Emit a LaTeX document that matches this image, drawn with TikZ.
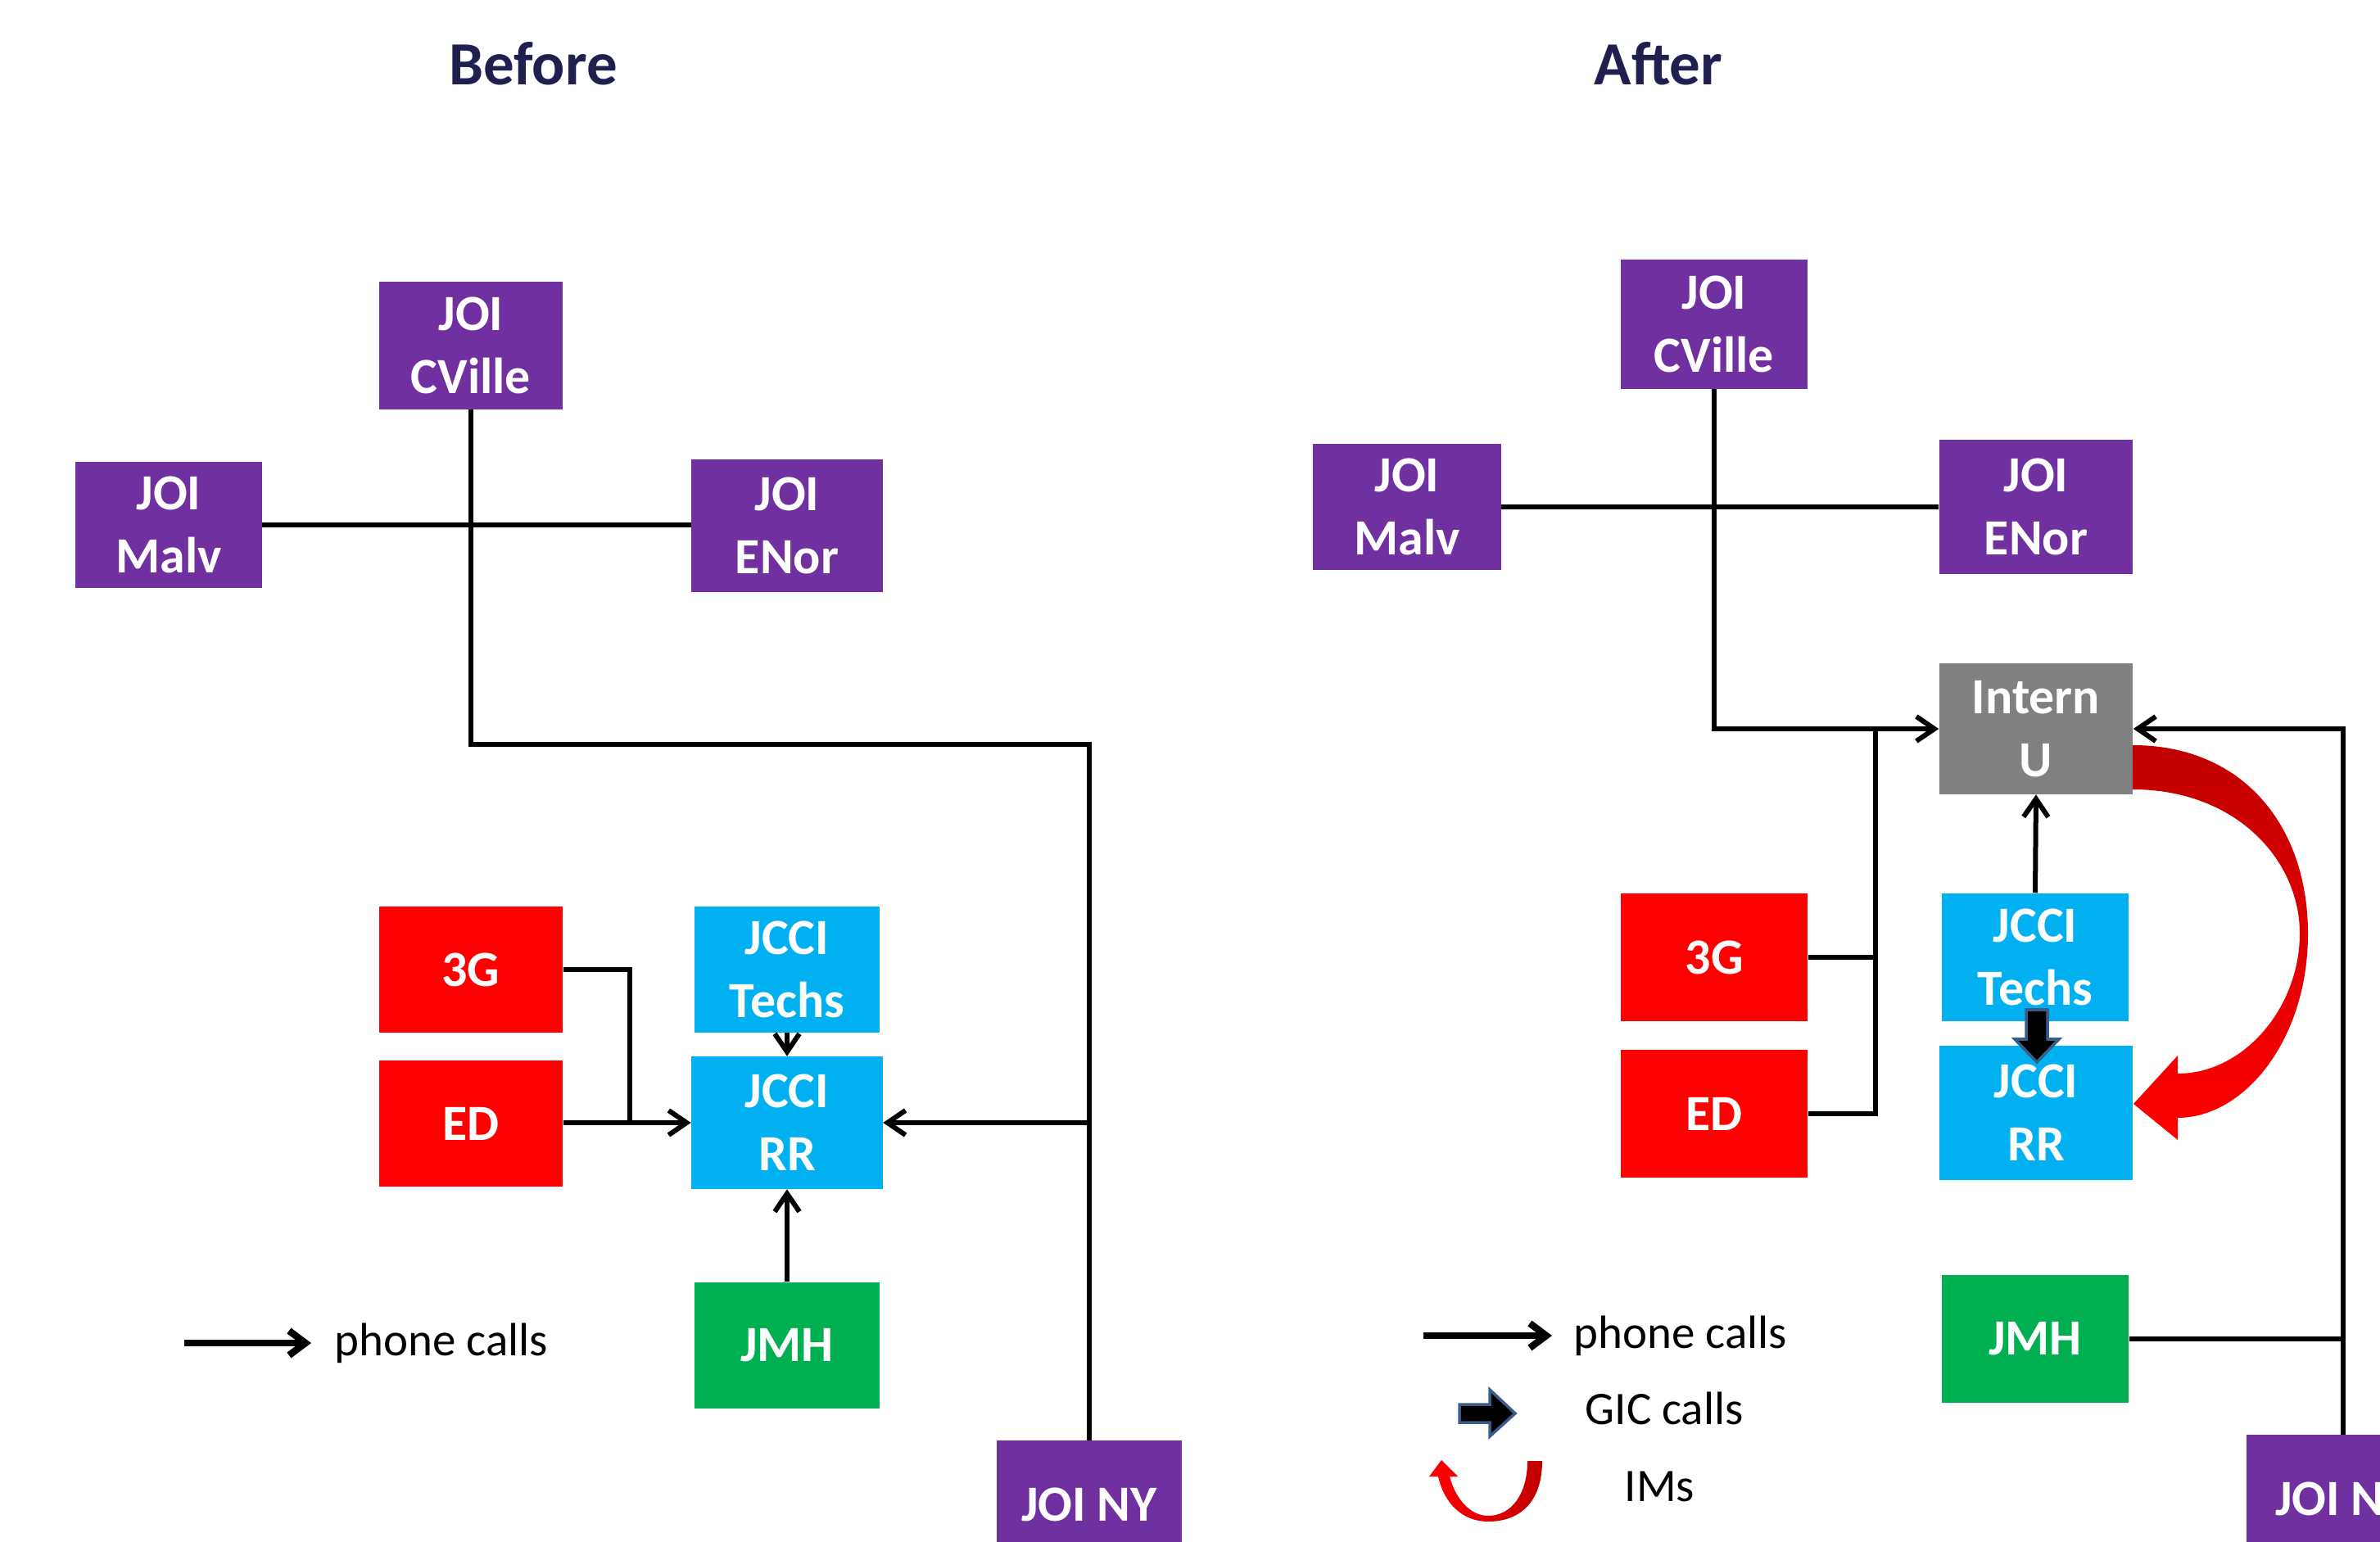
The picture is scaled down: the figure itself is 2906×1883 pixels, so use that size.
\documentclass[tikz,border=0pt]{standalone}
\usepackage{fontspec}
\setmainfont{Carlito}
\usetikzlibrary{arrows.meta}
\definecolor{jpurple}{HTML}{7030A0}
\definecolor{jred}{HTML}{FF0000}
\definecolor{jcyan}{HTML}{00B0F0}
\definecolor{jgreen}{HTML}{00B050}
\definecolor{jgray}{HTML}{808080}
\definecolor{jtitle}{HTML}{1F2050}
\definecolor{imdark}{HTML}{C00000}
\definecolor{gicblue}{HTML}{385D8A}
\begin{document}
\begin{tikzpicture}[x=0.01cm,y=-0.01cm,
  box/.style={inner sep=0pt, text=white, align=center,
    font=\bfseries\fontsize{17.6}{22}\selectfont},
  ln/.style={line width=0.06cm},
  ar/.style={line width=0.06cm, -{Straight Barb[length=0.22cm,width=0.3cm]}},
  legar/.style={line width=0.085cm, -{Straight Barb[length=0.2cm,width=0.3cm]}},
  title/.style={text=jtitle, font=\bfseries\fontsize{21.3}{25}\selectfont},
  legtext/.style={anchor=west, inner sep=0pt, font=\fontsize{16.2}{19}\selectfont},
  gic/.style={fill=black, draw=gicblue, line width=0.035cm, line join=miter}
]
\useasboundingbox (0,0) rectangle (2906,1883);
\clip (0,0) rectangle (2906,1883);

% titles
\node[title] (tbefore) at (651,78) {Before};
\node[title] (tafter) at (2025,78) {After};

% ---------------- Before ----------------
\node[box, fill=jpurple, minimum width=2.24cm, minimum height=1.55cm] (lcv) at (575,422) {JOI\\CVille};
\node[box, fill=jpurple, minimum width=2.27cm, minimum height=1.53cm] (lmalv) at (206,641) {JOI\\Malv};
\node[box, fill=jpurple, minimum width=2.33cm, minimum height=1.61cm] (lenor) at (961,642) {JOI\\ENor};
\node[box, fill=jred, minimum width=2.24cm, minimum height=1.53cm] (l3g) at (575,1184) {3G};
\node[box, fill=jred, minimum width=2.24cm, minimum height=1.53cm] (led) at (575,1372) {ED};
\node[box, fill=jcyan, minimum width=2.25cm, minimum height=1.53cm] (ltech) at (961,1184) {JCCI\\Techs};
\node[box, fill=jcyan, minimum width=2.33cm, minimum height=1.61cm] (lrr) at (961,1371) {JCCI\\RR};
\node[box, fill=jgreen, minimum width=2.25cm, minimum height=1.54cm] (ljmh) at (961,1643) {JMH};
\node[box, fill=jpurple, minimum width=2.25cm, minimum height=1.55cm] (lny) at (1330,1837) {JOI NY};

\coordinate (ltop) at (1330,909);
\coordinate (ljn) at (1330,1371);
\coordinate (lbr) at (769,1371);

\draw[ln] (lmalv.east) -- (lmalv.east -| lenor.west);
\draw[ln] (lcv.south) |- (ltop) -- (lny.north);
\draw[ar] (ljn) -- (lrr.east);
\draw[ln] (l3g.east) -| (lbr);
\draw[ar] (led.east |- lrr.west) -- (lrr.west);
\draw[ar] (ltech.south) -- (lrr.north);
\draw[ar] (ljmh.north) -- (lrr.south);

% legend (before)
\coordinate (lla) at (225,1640);
\coordinate (llb) at (380,1640);
\draw[legar] (lla) -- (llb);
\node[legtext] (lltext) at (408,1640) {phone calls};

% ---------------- After ----------------
\node[box, fill=jpurple, minimum width=2.28cm, minimum height=1.57cm] (rcv) at (2093,396) {JOI\\CVille};
\node[box, fill=jpurple, minimum width=2.29cm, minimum height=1.54cm] (rmalv) at (1718,619) {JOI\\Malv};
\node[box, fill=jpurple, minimum width=2.36cm, minimum height=1.64cm] (renor) at (2486,619) {JOI\\ENor};
\node[box, fill=jgray, minimum width=2.36cm, minimum height=1.59cm] (rint) at (2486,890) {Intern\\U};
\node[box, fill=jred, minimum width=2.28cm, minimum height=1.56cm] (r3g) at (2093,1169) {3G};
\node[box, fill=jred, minimum width=2.28cm, minimum height=1.55cm] (red) at (2093,1360) {ED};
\node[box, fill=jcyan, minimum width=2.28cm, minimum height=1.56cm] (rtech) at (2485,1169) {JCCI\\Techs};
\node[box, fill=jcyan, minimum width=2.36cm, minimum height=1.64cm] (rrr) at (2486,1359) {JCCI\\RR};
\node[box, fill=jgreen, minimum width=2.28cm, minimum height=1.55cm] (rjmh) at (2485,1635) {JMH};
\node[box, fill=jpurple, minimum width=2.35cm, minimum height=1.55cm] (rny) at (2861,1830) {JOI NY};

\coordinate (rbr) at (2290,890);

\draw[ln] (rmalv.east) -- (rmalv.east -| renor.west);
\draw[ar] (rcv.south) |- (rint.west);
\draw[ln] (r3g.east) -| (rbr);
\draw[ln] (red.east) -| (rbr);
\draw[ar] (rny.north) |- (rint.east);
\draw[ln] (rjmh.east) -- (rjmh.east -| rny.north);
\draw[ar] (rtech.north) -- (rint.south);

% GIC block arrow (Techs -> RR)
\path[gic] (2474,1233) -- (2500,1233) -- (2500,1269) -- (2514,1269) -- (2487,1297)
  -- (2460,1269) -- (2474,1269) -- cycle;

% IM curved arrow (Intern U -> RR)
\path[top color=imdark, bottom color=jred]
  (2604,910) .. controls (2740,910) and (2818,1010) .. (2818,1140)
  .. controls (2818,1270) and (2740,1365) .. (2659,1365)
  -- (2659,1392) -- (2605,1348) -- (2659,1289) -- (2659,1311)
  .. controls (2740,1311) and (2808,1230) .. (2808,1140)
  .. controls (2808,1050) and (2730,964) .. (2604,964) -- cycle;

% legend (after)
\coordinate (rla) at (1738,1631);
\coordinate (rlb) at (1895,1631);
\draw[legar] (rla) -- (rlb);
\node[legtext] (rltext1) at (1921,1631) {phone calls};

\path[gic] (1782,1715) -- (1819,1715) -- (1819,1697) -- (1850,1726) -- (1819,1754)
  -- (1819,1737) -- (1782,1737) -- cycle;
\node[legtext] (rltext2) at (1935,1720) {GIC calls};

\path[left color=jred, right color=imdark]
  (1865,1784) -- (1883,1784)
  .. controls (1883,1835) and (1855,1858) .. (1817,1858)
  .. controls (1785,1858) and (1763,1835) .. (1756,1803)
  -- (1745,1803) -- (1760,1783) -- (1780,1803) -- (1770,1803)
  .. controls (1777,1830) and (1795,1851) .. (1817,1851)
  .. controls (1845,1851) and (1865,1825) .. (1865,1784) -- cycle;
\node[legtext] (rltext3) at (1983,1815) {IMs};
\end{tikzpicture}
\end{document}
